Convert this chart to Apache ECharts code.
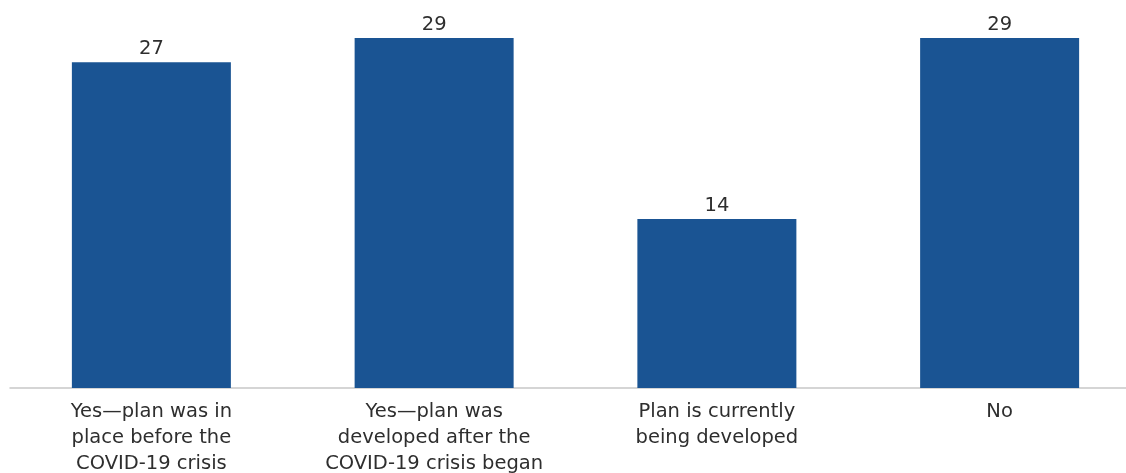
<!DOCTYPE html>
<html><head><meta charset="utf-8">
<script src="https://cdn.jsdelivr.net/npm/echarts@6/dist/echarts.min.js"></script>
<style>html,body{margin:0;padding:0;background:#fff;overflow:hidden}#c{width:1126px;height:473px}</style>
</head><body><div id="c"></div>
<script>
const categories = [
  "Yes\u2014plan was in\nplace before the\nCOVID-19 crisis",
  "Yes\u2014plan was\ndeveloped after the\nCOVID-19 crisis began",
  "Plan is currently\nbeing developed",
  "No"
];
const values = [27, 29, 14, 29];

const chart = echarts.init(document.getElementById('c'));
chart.setOption({
  animation: false,
  grid: { left: 10, top: 38, right: -15, bottom: 85, containLabel: false, outerBoundsMode: 'none' },
  xAxis: {
    type: 'category', data: categories,
    axisLine: { lineStyle: { color: '#c8c8c8', width: 1.5 } },
    axisTick: { show: false },
    axisLabel: { interval: 0, color: '#2e2e2e', fontFamily: 'DejaVu Sans', fontSize: 19.5, lineHeight: 26, margin: 11, hideOverlap: false }
  },
  yAxis: { type: 'value', min: 0, max: 29, show: false, splitLine: { show: false } },
  series: [{
    type: 'bar', data: values, barWidth: 159,
    itemStyle: { color: '#1a5493' },
    label: { show: true, position: 'top', distance: 3, color: '#2e2e2e', fontFamily: 'DejaVu Sans', fontSize: 19.5 }
  }]
});
</script></body></html>
